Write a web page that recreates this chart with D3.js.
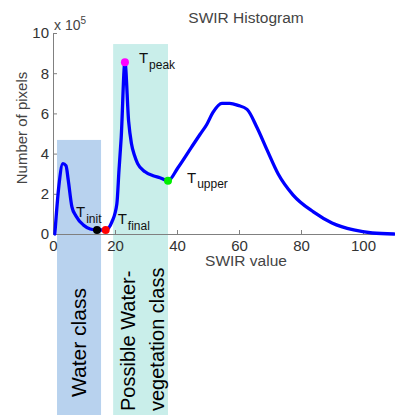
<!DOCTYPE html>
<html>
<head>
<meta charset="utf-8">
<script src="https://cdn.jsdelivr.net/npm/d3@7"></script>
<style>
  body { margin: 0; background: #fff; }
  svg { display: block; font-family: Arial, "Liberation Sans", sans-serif; }
</style>
</head>
<body>
<div id="container"></div>
<script>
// histogram curve (pixel counts in units of 1e5)
var swirValue  = [0.6, 1.9, 3.2, 4.2, 4.9, 6.1, 7.4, 9.8, 12, 14.2, 17, 19, 20.6, 21.3, 22.0, 23.2, 24.4, 25.3, 26.3, 27.3, 29.7, 32.3, 34.5, 37.1, 40.3, 44.8, 47.4, 49.6, 51.6, 54.5, 57, 59.7, 62.6, 65.8, 69, 72.6, 77.4, 84, 90, 97, 103, 110];
var pixelCount = [0, 2.4, 3.5, 3.4, 2.7, 1.35, 0.9, 0.45, 0.25, 0.2, 0.2, 0.6, 1.5, 3.2, 4.8, 8.55, 5.6, 4.5, 3.9, 3.5, 3.1, 2.9, 2.8, 2.65, 3.3, 4.35, 4.95, 5.45, 6.05, 6.5, 6.5, 6.4, 6.2, 5.3, 4.2, 3.0, 1.95, 1.1, 0.55, 0.2, 0.05, 0];

// threshold markers
var markerSub   = ["peak", "init", "final", "upper"];
var markerX     = [23.2, 14.2, 17, 37.1];
var markerY     = [8.55, 0.2, 0.2, 2.65];
var markerColor = ["#ff00ff", "#000000", "#ff0000", "#00ee00"];

// class boxes (x range in SWIR value, top in 1e5 pixels)
var classNames = [["Water class"], ["Possible Water-", "vegetation class"]];
var classX0    = [1.3, 19.4];
var classX1    = [15.5, 37.1];
var classTop   = [4.68, 9.45];
var classColor = ["#b8d2ee", "#c9eeea"];

var xTicks = [0, 20, 40, 60, 80, 100];
var yTicks = [0, 2, 4, 6, 8, 10];

var W = 395, H = 415;
var svg = d3.select("#container").append("svg")
  .attr("width", W).attr("height", H);

var x = d3.scaleLinear().domain([0, 110]).range([53, 394]);
var y = d3.scaleLinear().domain([0, 10]).range([234, 33]);

// class boxes behind everything
var boxes = svg.append("g");
classNames.forEach(function(lines, i) {
  boxes.append("rect")
    .attr("x", x(classX0[i]))
    .attr("y", y(classTop[i]))
    .attr("width", x(classX1[i]) - x(classX0[i]))
    .attr("height", H - y(classTop[i]))
    .attr("fill", classColor[i]);
});

// axes
var axisColor = "#808080";
var gx = svg.append("g")
  .attr("transform", "translate(0," + y(0) + ")")
  .call(d3.axisBottom(x).tickValues(xTicks).tickSizeInner(-4).tickSizeOuter(0).tickPadding(6));
var gy = svg.append("g")
  .attr("transform", "translate(" + x(0) + ",0)")
  .call(d3.axisLeft(y).tickValues(yTicks).tickSizeInner(-4).tickSizeOuter(0).tickPadding(4));
[gx, gy].forEach(function(g) {
  g.select(".domain").attr("stroke", axisColor);
  g.selectAll(".tick line").attr("stroke", axisColor);
  g.selectAll(".tick text")
    .attr("fill", "#333")
    .style("font-size", "15px")
    .style("font-family", "Arial, 'Liberation Sans', sans-serif");
});

// titles
svg.append("text")
  .attr("x", 246).attr("y", 23)
  .attr("text-anchor", "middle")
  .attr("fill", "#444")
  .style("font-size", "15.5px")
  .text("SWIR Histogram");

svg.append("text")
  .attr("x", 246).attr("y", 266)
  .attr("text-anchor", "middle")
  .attr("fill", "#444")
  .style("font-size", "15.5px")
  .text("SWIR value");

svg.append("text")
  .attr("transform", "translate(27,128) rotate(-90)")
  .attr("text-anchor", "middle")
  .attr("fill", "#444")
  .style("font-size", "15px")
  .text("Number of pixels");

var sci = svg.append("text")
  .attr("x", 54).attr("y", 30)
  .attr("fill", "#444")
  .style("font-size", "14px");
sci.append("tspan").text("x 10");
sci.append("tspan").attr("dy", -6).style("font-size", "10px").text("5");

// histogram line
var line = d3.line()
  .x(function(d, i) { return x(swirValue[i]); })
  .y(function(d, i) { return y(pixelCount[i]); })
  .curve(d3.curveMonotoneX);

svg.append("path")
  .datum(swirValue)
  .attr("fill", "none")
  .attr("stroke", "#0000ff")
  .attr("stroke-width", 3.3)
  .attr("stroke-linejoin", "round")
  .attr("stroke-linecap", "round")
  .attr("d", line);

// threshold dots
svg.selectAll(".marker")
  .data(markerSub)
  .enter().append("circle")
  .attr("class", "marker")
  .attr("cx", function(d, i) { return x(markerX[i]); })
  .attr("cy", function(d, i) { return y(markerY[i]); })
  .attr("r", 4)
  .attr("fill", function(d, i) { return markerColor[i]; });

// threshold labels: T with subscript, offsets in pixels from the dot
var labelDx  = [14, -21, 12, 19];
var labelDy  = [1, -13, -6, 2];
var subShift = [6, 6, 6, 5];
markerSub.forEach(function(s, i) {
  var t = svg.append("text")
    .attr("x", x(markerX[i]) + labelDx[i])
    .attr("y", y(markerY[i]) + labelDy[i])
    .attr("fill", "#111")
    .style("font-size", "15px");
  t.append("tspan").text("T");
  t.append("tspan")
    .attr("dx", 1)
    .attr("dy", subShift[i])
    .style("font-size", "12px")
    .text(s);
});

// rotated class captions inside the boxes
var captionX = [[79], [128, 157]];
var captionSize = [21, 20];
classNames.forEach(function(lines, i) {
  lines.forEach(function(str, j) {
    svg.append("text")
      .attr("transform", "translate(" + (captionX[i][j] + 7) + "," + (i === 0 ? 397 : 411) + ") rotate(-90)")
      .attr("fill", "#000")
      .style("font-size", captionSize[i] + "px")
      .text(str);
  });
});
</script>
</body>
</html>
